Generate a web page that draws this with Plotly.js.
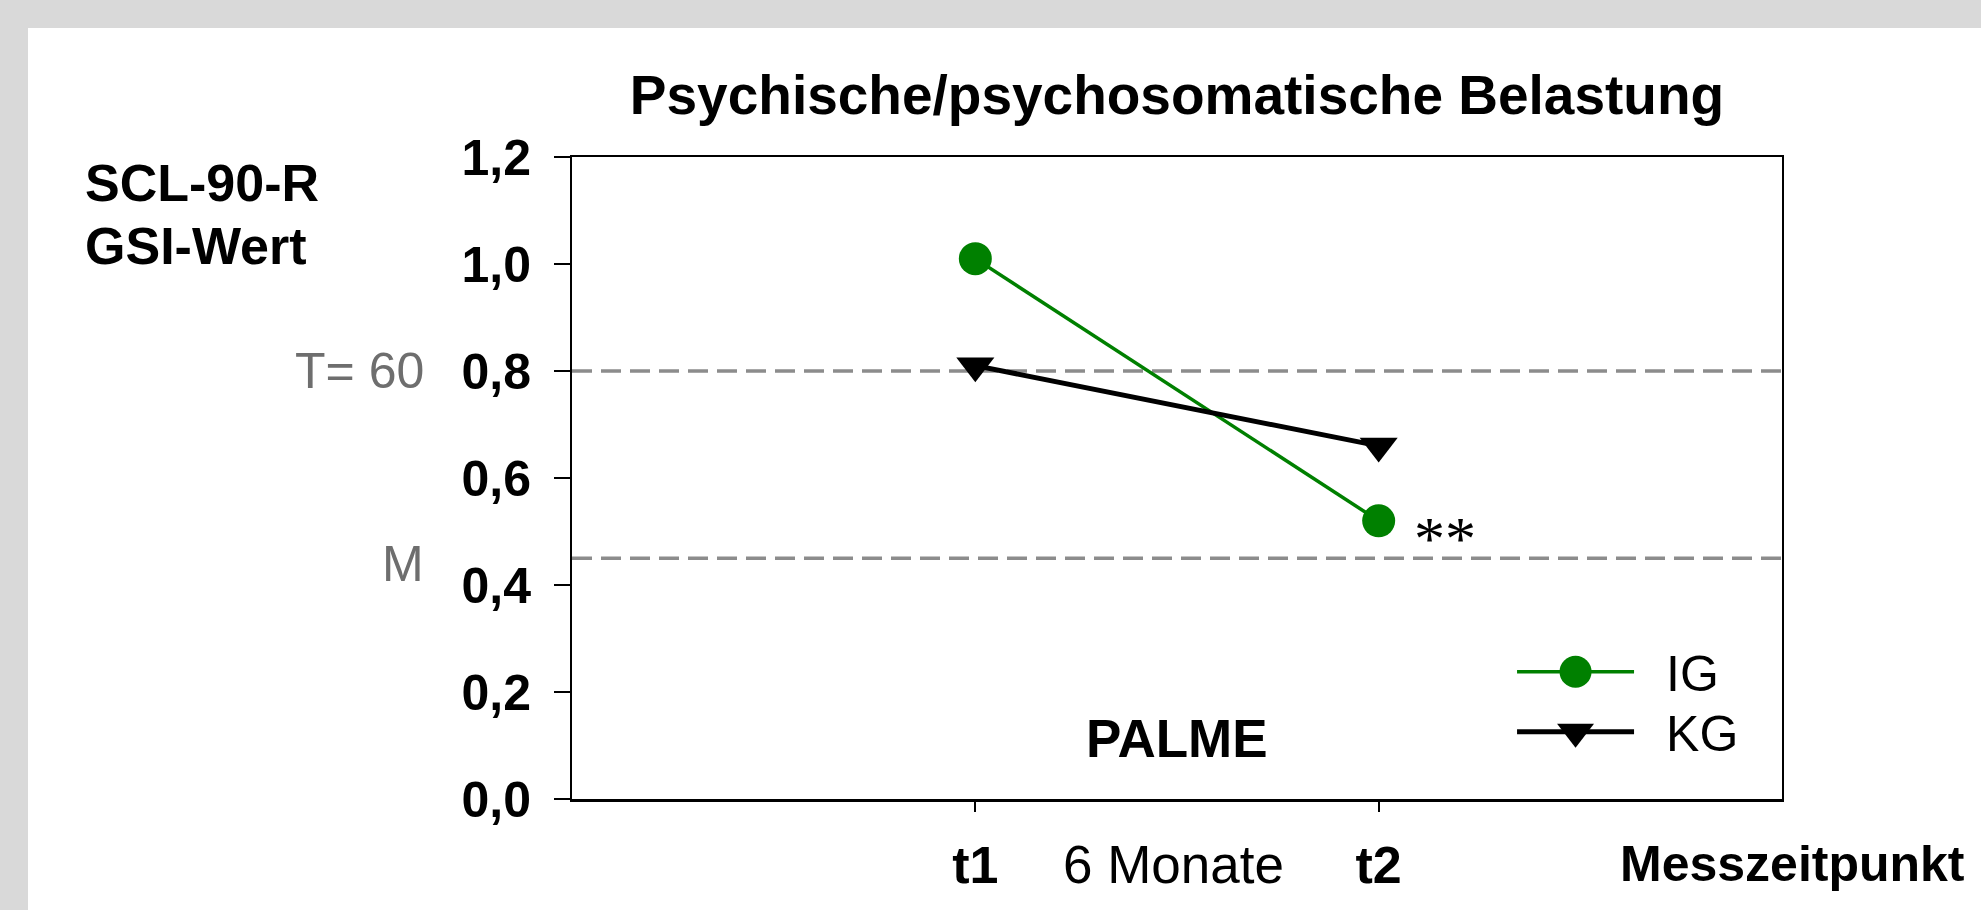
<!DOCTYPE html>
<html><head><meta charset="utf-8">
<script src="https://cdn.plot.ly/plotly-3.0.1.min.js"></script>
<style>
html,body{margin:0;padding:0;background:#d9d9d9;width:1981px;height:910px;overflow:hidden}
#chart{position:absolute;left:28px;top:28px;width:1953px;height:882px;background:#fff}
</style></head><body><div id="chart"></div>
<script>
// ---- data ----
const timepoints = [1, 2];
const tickLabels = ['t1', 't2'];
const seriesNames = ['IG', 'KG'];
const igValues = [1.01, 0.52];
const kgValues = [0.81, 0.66];
const refLevels = [0.8, 0.45];
const refLabels = ['T= 60', 'M'];
const yTicks = [0, 0.2, 0.4, 0.6, 0.8, 1.0, 1.2];
const yTickLabels = ['0,0', '0,2', '0,4', '0,6', '0,8', '1,0', '1,2'];
const significance = '**';
const titleText = 'Psychische/psychosomatische Belastung';
const yLabelLines = ['SCL-90-R', 'GSI-Wert'];
const xLabelText = 'Messzeitpunkt';
const intervalText = '6 Monate';
const studyText = 'PALME';

// ---- styling ----
const SANS = 'Liberation Sans, Arial, sans-serif';
const SERIF = 'Liberation Serif, Times New Roman, serif';
const GREEN = '#008000';

const traces = [
  {
    x: timepoints, y: igValues, name: seriesNames[0], type: 'scatter', mode: 'lines+markers',
    line: {color: GREEN, width: 3.5},
    marker: {symbol: 'circle', size: 33, color: GREEN}
  },
  {
    x: timepoints, y: kgValues, name: seriesNames[1], type: 'scatter', mode: 'lines+markers',
    line: {color: '#000000', width: 5},
    marker: {symbol: 'triangle-down', size: 33, color: '#000000'}
  }
];

const shapes = refLevels.map(v => ({
  type: 'line', xref: 'paper', x0: 0, x1: 1, yref: 'y', y0: v, y1: v,
  layer: 'below',
  line: {color: '#8c8c8c', width: 3.5, dash: '20px,9px'}
}));

const annotations = [];
refLevels.forEach((v, i) => {
  annotations.push({
    xref: 'paper', x: -0.1207, xanchor: 'right', yref: 'y', y: v, yanchor: 'middle',
    yshift: i === 1 ? -6 : 0,
    text: refLabels[i], showarrow: false,
    font: {family: SANS, size: 50, color: '#6e6e6e'}
  });
});
annotations.push({
  xref: 'x', x: timepoints[1], yref: 'y', y: igValues[1], xanchor: 'left', yanchor: 'middle',
  xshift: 33, yshift: -17, text: significance, showarrow: false,
  font: {family: SERIF, size: 62, color: '#000'}
});
annotations.push({
  xref: 'paper', x: 0.5, yref: 'paper', y: 0.0935, xanchor: 'center', yanchor: 'middle',
  text: '<b>' + studyText + '</b>', showarrow: false,
  font: {family: SANS, size: 53, color: '#000'}
});
annotations.push({
  xref: 'paper', x: 0.4967, yref: 'paper', y: -0.102, xanchor: 'center', yanchor: 'middle',
  text: intervalText, showarrow: false,
  font: {family: SANS, size: 53, color: '#000'}
});
annotations.push({
  xref: 'paper', x: 1.1529, yref: 'paper', y: -0.102, xanchor: 'right', yanchor: 'middle',
  text: '<b>' + xLabelText + '</b>', showarrow: false,
  font: {family: SANS, size: 50, color: '#000'}
});
[0.9595, 0.8614].forEach((py, i) => {
  annotations.push({
    xref: 'paper', x: -0.404, yref: 'paper', y: py, xanchor: 'left', yanchor: 'middle', align: 'left',
    text: '<b>' + yLabelLines[i] + '</b>', showarrow: false,
    font: {family: SANS, size: 52, color: '#000'}
  });
});

const layout = {
  width: 1953, height: 882,
  margin: {l: 544, r: 199, t: 129, b: 111, pad: 0},
  paper_bgcolor: '#ffffff', plot_bgcolor: '#ffffff',
  showlegend: true,
  title: {
    text: '<b>' + titleText + '</b>', xref: 'paper', x: 0.5, xanchor: 'center',
    yref: 'container', y: 0.924, yanchor: 'middle',
    font: {family: SANS, size: 55, color: '#000'}
  },
  xaxis: {
    range: [0, 3], tickmode: 'array', tickvals: timepoints, ticktext: tickLabels.map(t => '<b>' + t + '</b>'),
    showline: true, linecolor: '#000', linewidth: 2.5, mirror: true,
    ticks: 'outside', ticklen: 10, tickwidth: 2, tickcolor: '#000',
    ticklabelstandoff: 9,
    showgrid: false, zeroline: false,
    tickfont: {family: SANS, size: 52, color: '#000'}
  },
  yaxis: {
    range: [0, 1.2], tickmode: 'array', tickvals: yTicks, ticktext: yTickLabels.map(t => '<b>' + t + '</b>'),
    showline: true, linecolor: '#000', linewidth: 2, mirror: true,
    ticks: 'outside', ticklen: 16, tickwidth: 2, tickcolor: '#000',
    ticklabelstandoff: 13,
    showgrid: false, zeroline: false,
    tickfont: {family: SANS, size: 50, color: '#000'}
  },
  legend: {
    x: 0.7769, xanchor: 'left', y: 0.259, yanchor: 'top',
    bgcolor: 'rgba(0,0,0,0)', borderwidth: 0,
    itemwidth: 117,
    font: {family: SANS, size: 50, color: '#000'}
  },
  shapes: shapes,
  annotations: annotations,
  hovermode: false
};

Plotly.newPlot('chart', traces, layout, {staticPlot: true, displayModeBar: false}).then(gd => {
  // legend fine-tuning: larger symbols, wider gap before the text, tighter row spacing
  gd.querySelectorAll('.legend [clip-path]').forEach(el => el.removeAttribute('clip-path'));
  gd.querySelectorAll('.legend .legendpoints path.scatterpts').forEach(p => {
    const t = p.getAttribute('transform') || '';
    p.setAttribute('transform', t + ' scale(2)');
  });
  gd.querySelectorAll('.legend .legendtext').forEach(t => {
    const x = parseFloat(t.getAttribute('x') || '0');
    t.setAttribute('x', x + 27);
  });
  gd.querySelectorAll('.legend g.traces').forEach((g, i) => {
    const t = g.getAttribute('transform') || '';
    const m = t.match(/translate\(\s*([-\d.]+)[ ,]+([-\d.]+)\s*\)/);
    if (m && i > 0) {
      g.setAttribute('transform', `translate(${m[1]},${parseFloat(m[2]) - 8 * i})`);
    }
  });
});
</script>
</body></html>
